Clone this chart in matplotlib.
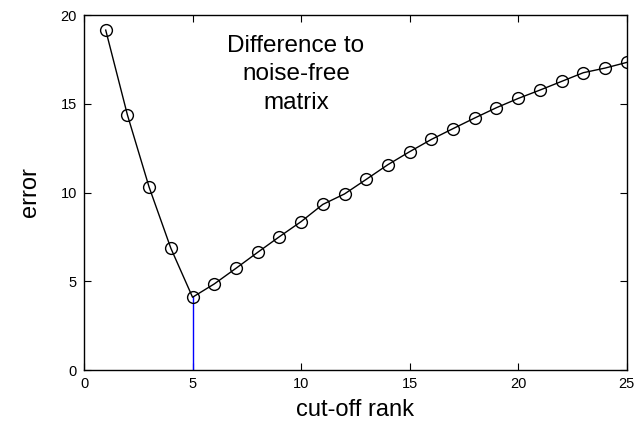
import matplotlib
matplotlib.use('Agg')
import matplotlib.pyplot as plt
import numpy as np

# cut-off rank vs error
rank = np.arange(1, 26)
error = [19.15, 14.37, 10.3, 6.86, 4.1, 4.85, 5.73, 6.63, 7.51, 8.36,
         9.33, 9.92, 10.74, 11.57, 12.3, 12.99, 13.6, 14.2, 14.78, 15.3,
         15.77, 16.26, 16.75, 17.01, 17.33]
best_rank = 5

plt.rcParams['font.family'] = ['Liberation Sans', 'DejaVu Sans']

fig = plt.figure(figsize=(6.35, 4.29), dpi=100)
ax = fig.add_axes([0.1323, 0.1375, 0.8547, 0.8275])

ax.plot([best_rank, best_rank], [0, error[best_rank - 1]], color='blue', lw=1)
ax.plot(rank, error, color='black', lw=1, marker='o', markersize=8.5,
        markerfacecolor='none', markeredgecolor='black', markeredgewidth=1)

ax.set_xlim(0, 25)
ax.set_ylim(0, 20)
ax.set_xticks([0, 5, 10, 15, 20, 25])
ax.set_yticks([0, 5, 10, 15, 20])
ax.tick_params(direction='in', top=True, right=True, labelsize=10.5, length=5, pad=5)
for s in ax.spines.values():
    s.set_linewidth(1)

ax.set_xlabel('cut-off rank', fontsize=17, labelpad=6)
ax.set_ylabel('error', fontsize=17, labelpad=14)

ax.text(9.76, 18.9, 'Difference to\nnoise-free\nmatrix', ha='center', va='top',
        fontsize=17.5, linespacing=1.4)

fig.savefig('out.png', dpi=100)
